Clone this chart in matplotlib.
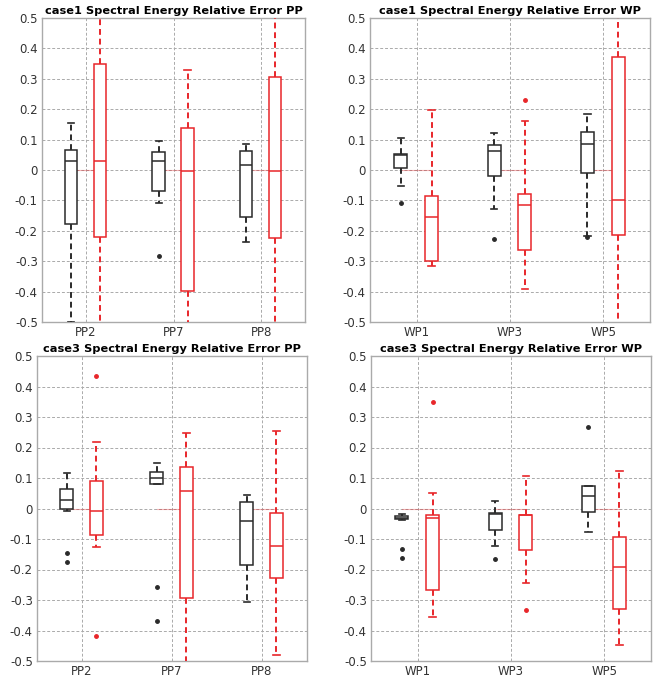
import matplotlib
matplotlib.use('Agg')
import matplotlib.pyplot as plt

# y tick labels shared by all panels
yticks = [-0.5, -0.4, -0.3, -0.2, -0.1, 0, 0.1, 0.2, 0.3, 0.4, 0.5]
ytick_labels = ['-0.5', '-0.4', '-0.3', '-0.2', '-0.1', '0', '0.1', '0.2', '0.3', '0.4', '0.5']

titles = ['case1 Spectral Energy Relative Error PP', 'case1 Spectral Energy Relative Error WP',
          'case3 Spectral Energy Relative Error PP', 'case3 Spectral Energy Relative Error WP']
pp_labels = ['PP2', 'PP7', 'PP8']
wp_labels = ['WP1', 'WP3', 'WP5']

# box stats per group: [lower whisker, Q1, median, Q3, upper whisker]
case1_pp_black = [[-0.50, -0.177, 0.028, 0.067, 0.153],
                  [-0.107, -0.068, 0.028, 0.058, 0.094],
                  [-0.238, -0.155, 0.016, 0.061, 0.085]]
case1_pp_black_out = [[], [-0.284], []]
case1_pp_red = [[-0.60, -0.222, 0.028, 0.349, 0.60],
                [-0.60, -0.397, -0.004, 0.138, 0.330],
                [-0.60, -0.224, -0.003, 0.306, 0.60]]
case1_pp_red_out = [[], [], []]

case1_wp_black = [[-0.054, 0.007, 0.050, 0.053, 0.105],
                  [-0.128, -0.021, 0.061, 0.083, 0.122],
                  [-0.216, -0.011, 0.086, 0.124, 0.184]]
case1_wp_black_out = [[-0.110], [-0.226], [-0.219]]
case1_wp_red = [[-0.317, -0.298, -0.155, -0.087, 0.198],
                [-0.391, -0.264, -0.115, -0.078, 0.160],
                [-0.60, -0.214, -0.100, 0.371, 0.60]]
case1_wp_red_out = [[], [0.229], []]

case3_pp_black = [[-0.009, -0.002, 0.028, 0.065, 0.115],
                  [0.081, 0.081, 0.101, 0.120, 0.148],
                  [-0.306, -0.184, -0.042, 0.020, 0.045]]
case3_pp_black_out = [[-0.145, -0.174], [-0.258, -0.369], []]
case3_pp_red = [[-0.125, -0.088, -0.007, 0.091, 0.219],
                [-0.60, -0.295, 0.056, 0.135, 0.246],
                [-0.480, -0.229, -0.124, -0.016, 0.255]]
case3_pp_red_out = [[0.433, -0.417], [], []]

case3_wp_black = [[-0.037, -0.035, -0.030, -0.024, -0.018],
                  [-0.123, -0.070, -0.018, -0.016, 0.023],
                  [-0.078, -0.010, 0.042, 0.073, 0.074]]
case3_wp_black_out = [[-0.133, -0.163], [-0.165], [0.266]]
case3_wp_red = [[-0.357, -0.267, -0.032, -0.021, 0.051],
                [-0.243, -0.135, -0.020, -0.020, 0.108],
                [-0.447, -0.331, -0.193, -0.093, 0.122]]
case3_wp_red_out = [[0.348], [-0.334], []]

panels = [
    (case1_pp_black, case1_pp_black_out, case1_pp_red, case1_pp_red_out, pp_labels),
    (case1_wp_black, case1_wp_black_out, case1_wp_red, case1_wp_red_out, wp_labels),
    (case3_pp_black, case3_pp_black_out, case3_pp_red, case3_pp_red_out, pp_labels),
    (case3_wp_black, case3_wp_black_out, case3_wp_red, case3_wp_red_out, wp_labels),
]

# axes rectangles in pixels: left, right, top, bottom
W, H = 667, 679
rects = [(42, 305, 18, 322), (370, 650, 18, 322), (37, 307, 356, 661), (371, 651, 356, 661)]

RED = '#e8262a'
BLACK = '#2a2a2a'


def make_stats(rows, outliers):
    stats = []
    for r, out in zip(rows, outliers):
        stats.append({'whislo': r[0], 'q1': r[1], 'med': r[2], 'q3': r[3], 'whishi': r[4], 'fliers': out})
    return stats


def draw_group(ax, stats, positions, color):
    ax.bxp(stats, positions=positions, widths=0.14, patch_artist=True, showfliers=True,
           boxprops=dict(facecolor='white', edgecolor=color, linewidth=1.1),
           medianprops=dict(color=color, linewidth=1.1),
           whiskerprops=dict(color=color, linewidth=1.4, linestyle=(0, (3, 2))),
           capprops=dict(color=color, linewidth=1.2),
           flierprops=dict(marker='o', markersize=2.5, markerfacecolor=color, markeredgecolor=color),
           capwidths=0.07, zorder=3)


fig = plt.figure(figsize=(6.67, 6.79), dpi=100)

for i, (blk, blk_out, red, red_out, labels) in enumerate(panels):
    l, r, t, b = rects[i]
    ax = fig.add_axes([l / W, 1 - b / H, (r - l) / W, (b - t) / H])
    pos = [1, 2, 3]
    pos_black = [p - 0.17 for p in pos]
    pos_red = [p + 0.16 for p in pos]

    # faint zero line between the pair of boxes
    for pb, pr in zip(pos_black, pos_red):
        ax.plot([pb, pr], [0, 0], color=RED, alpha=0.35, linewidth=0.8, zorder=2)

    draw_group(ax, make_stats(blk, blk_out), pos_black, BLACK)
    draw_group(ax, make_stats(red, red_out), pos_red, RED)

    ax.set_xlim(0.5, 3.5)
    ax.set_ylim(-0.5, 0.5)
    ax.set_xticks(pos)
    ax.set_xticklabels(labels, fontsize=8.5, color='#333333')
    ax.set_yticks(yticks)
    ax.set_yticklabels(ytick_labels, fontsize=8.5, color='#333333')
    ax.tick_params(length=0, pad=3)
    ax.grid(True, color='#aaaaaa', linestyle=(0, (3, 2)), linewidth=0.7, zorder=0)
    ax.set_axisbelow(True)
    for s in ax.spines.values():
        s.set_color('#aaaaaa')
        s.set_linewidth(1.0)
    ax.set_title(titles[i], fontsize=8.2, fontweight='bold', pad=3)

fig.savefig('out.png', dpi=100)
